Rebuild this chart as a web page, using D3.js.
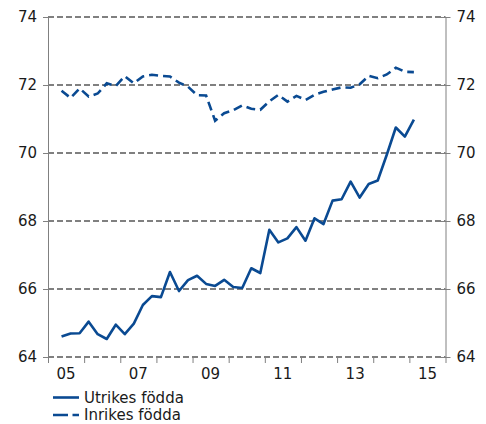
<!DOCTYPE html>
<html>
<head>
<meta charset="utf-8">
<script src="https://cdn.jsdelivr.net/npm/d3@7"></script>
<style>
  body { margin: 0; background: #fff; }
  svg { font-family: "DejaVu Sans", Verdana, sans-serif; }
</style>
</head>
<body>
<div id="chart"></div>
<script>
// quarters 2005Q2 .. 2015Q1
var quarters = [];
for (var y = 2005; y <= 2015; y++) {
  for (var q = 1; q <= 4; q++) {
    if ((y === 2005 && q === 1) || (y === 2015 && q > 1)) continue;
    quarters.push(y + "Q" + q);
  }
}

var utrikes = [
  64.60, 64.69, 64.70, 65.04, 64.67, 64.53, 64.95, 64.67, 64.98, 65.53,
  65.79, 65.76, 66.50, 65.94, 66.26, 66.39, 66.15, 66.09, 66.27, 66.06,
  66.03, 66.61, 66.47, 67.74, 67.37, 67.49, 67.82, 67.42, 68.08, 67.91,
  68.60, 68.64, 69.16, 68.69, 69.09, 69.19, 69.95, 70.75, 70.48, 70.98
];

var inrikes = [
  71.83, 71.62, 71.90, 71.66, 71.75, 72.05, 71.97, 72.26, 72.05, 72.25,
  72.30, 72.27, 72.25, 72.07, 71.95, 71.70, 71.69, 70.95, 71.17, 71.26,
  71.40, 71.30, 71.27, 71.52, 71.71, 71.51, 71.68, 71.56, 71.71, 71.80,
  71.87, 71.93, 71.92, 72.02, 72.27, 72.20, 72.31, 72.51, 72.39, 72.38
];

var yTicks = [64, 66, 68, 70, 72, 74];
var yearTicks = d3.range(2005, 2017);
var yearLabels = ["05", "07", "09", "11", "13", "15"];

var width = 486;
var height = 424;
var blue = "#0a4a92";
var grey = "#808080";
var fs = 15;

var x = d3.scaleLinear().domain([2005, 2016]).range([48, 445.5]);
var y = d3.scaleLinear().domain([64, 74]).range([357, 17]);

function qx(s) {
  var yr = +s.slice(0, 4), q = +s.slice(5);
  return x(yr + (q - 0.5) / 4);
}

var svg = d3
  .select("#chart")
  .append("svg")
  .attr("width", width)
  .attr("height", height);

// grid
svg
  .append("g")
  .selectAll("line")
  .data(yTicks)
  .enter()
  .append("line")
  .attr("x1", x(2005))
  .attr("x2", x(2016))
  .attr("y1", function(d) { return y(d); })
  .attr("y2", function(d) { return y(d); })
  .attr("stroke", grey)
  .attr("stroke-width", 1.8)
  .attr("stroke-dasharray", "6,3");

// left / right axes
var left = svg
  .append("g")
  .attr("transform", "translate(" + x(2005) + ",0)")
  .call(d3.axisLeft(y).tickValues(yTicks).tickSize(5).tickSizeOuter(0).tickPadding(6));
var right = svg
  .append("g")
  .attr("transform", "translate(" + x(2016) + ",0)")
  .call(d3.axisRight(y).tickValues(yTicks).tickSize(5).tickSizeOuter(0).tickPadding(6));

[left, right].forEach(function(g) {
  g.select(".domain").attr("stroke", grey).attr("d", "M0.5," + y(74) + "V" + y(64));
  g.selectAll(".tick line").attr("stroke", grey);
  g.selectAll("text")
    .attr("font-size", fs)
    .attr("fill", "#1a1a1a")
    .attr("font-family", "DejaVu Sans, Verdana, sans-serif");
});
left.selectAll(".tick line").attr("x1", 5);
right.selectAll(".tick line").attr("x1", -5);

// x axis
var bottom = svg
  .append("g")
  .attr("transform", "translate(0," + y(64) + ")")
  .call(d3.axisBottom(x).tickValues(yearTicks).tickSize(6).tickFormat(""));
bottom.select(".domain").remove();
bottom.selectAll(".tick line").attr("stroke", grey);

svg
  .append("g")
  .selectAll("text")
  .data(yearLabels)
  .enter()
  .append("text")
  .attr("x", function(d) { return x(2000 + +d + 0.5); })
  .attr("y", 378.5)
  .attr("text-anchor", "middle")
  .attr("font-size", fs)
  .attr("fill", "#1a1a1a")
  .text(function(d) { return d; });

// lines
var line = d3
  .line()
  .x(function(d, i) { return qx(quarters[i]); })
  .y(function(d) { return y(d); });

svg
  .append("path")
  .datum(inrikes)
  .attr("d", line)
  .attr("fill", "none")
  .attr("stroke", blue)
  .attr("stroke-width", 2.6)
  .attr("stroke-dasharray", "9,5");

svg
  .append("path")
  .datum(utrikes)
  .attr("d", line)
  .attr("fill", "none")
  .attr("stroke", blue)
  .attr("stroke-width", 2.6)
  .attr("stroke-linejoin", "round");

// legend
var legend = [
  { name: "Utrikes födda", dash: null, y: 397.5 },
  { name: "Inrikes födda", dash: "15,4.5", y: 415 }
];
var lg = svg.append("g").selectAll("g").data(legend).enter().append("g");
lg.append("line")
  .attr("x1", 53)
  .attr("x2", 79)
  .attr("y1", function(d) { return d.y; })
  .attr("y2", function(d) { return d.y; })
  .attr("stroke", blue)
  .attr("stroke-width", 2.6)
  .attr("stroke-dasharray", function(d) { return d.dash; });
lg.append("text")
  .attr("x", 84)
  .attr("y", function(d) { return d.y + 5; })
  .attr("font-size", fs)
  .attr("fill", "#1a1a1a")
  .text(function(d) { return d.name; });
</script>
</body>
</html>
